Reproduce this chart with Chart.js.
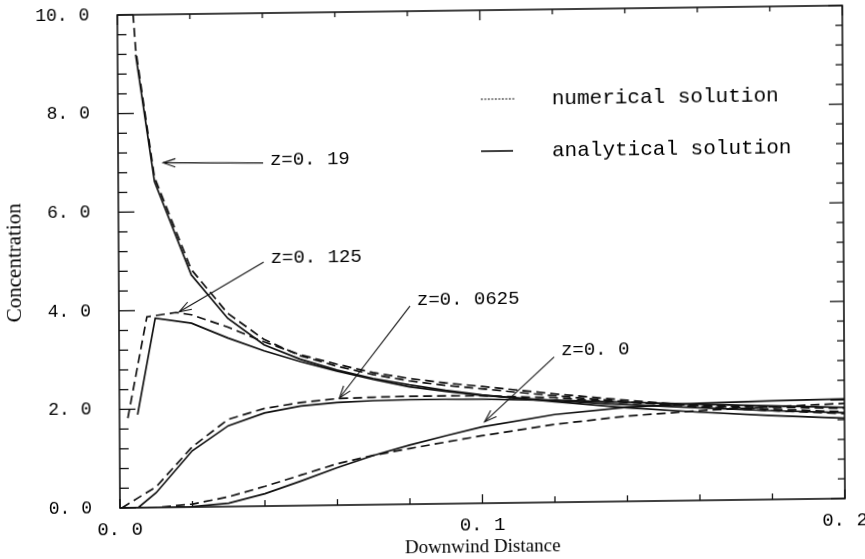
<!DOCTYPE html>
<html><head><meta charset="utf-8">
<script src="https://cdn.jsdelivr.net/npm/chart.js@4/dist/chart.umd.min.js"></script>
<style>
html,body{margin:0;padding:0;background:#fff;overflow:hidden}
#wrap{position:relative;width:865px;height:559px}
canvas{display:block;transform-origin:120px 508px;transform:rotate(-0.31deg) skewY(-0.44deg);}
</style></head>
<body><div id="wrap"><canvas id="c" width="865" height="559"></canvas></div>
<script>
// ---------- data ----------
// analytical solution (solid lines)
const xAnalytical   = [0.005, 0.01, 0.02, 0.03, 0.04, 0.05, 0.06, 0.07, 0.08, 0.09, 0.10, 0.12, 0.14, 0.16, 0.18, 0.20];
const anaZ019       = [9.19, 6.61, 4.71, 3.82, 3.27, 2.97, 2.74, 2.56, 2.42, 2.30, 2.20, 2.04, 1.90, 1.79, 1.70, 1.63];
const anaZ0125      = [1.89, 3.84, 3.73, 3.42, 3.15, 2.92, 2.72, 2.54, 2.38, 2.28, 2.19, 2.06, 1.96, 1.88, 1.80, 1.74];
const anaZ00625     = [0.00, 0.30, 1.14, 1.64, 1.89, 2.02, 2.08, 2.11, 2.12, 2.12, 2.11, 2.07, 2.01, 1.95, 1.90, 1.85];
const xAnaZ0        = [0.0, 0.01, 0.02, 0.03, 0.04, 0.05, 0.06, 0.07, 0.08, 0.09, 0.10, 0.12, 0.14, 0.16, 0.18, 0.20];
const anaZ0         = [0.00, 0.00, 0.01, 0.07, 0.25, 0.50, 0.76, 1.00, 1.20, 1.38, 1.55, 1.78, 1.91, 1.97, 2.00, 2.02];

// numerical solution (dashed lines)
const xNumZ019      = [0.0025, 0.005, 0.01, 0.02, 0.03, 0.04, 0.05, 0.06, 0.07, 0.08, 0.09, 0.10, 0.12, 0.14, 0.16, 0.18, 0.20];
const numZ019       = [12.0, 9.30, 6.70, 4.82, 3.92, 3.38, 3.04, 2.82, 2.64, 2.50, 2.40, 2.32, 2.16, 2.02, 1.90, 1.80, 1.72];
const xNumZ0125     = [0.0023, 0.0077, 0.0157, 0.02, 0.03, 0.04, 0.05, 0.06, 0.07, 0.08, 0.09, 0.10, 0.12, 0.14, 0.16, 0.18, 0.20];
const numZ0125      = [1.82, 3.87, 3.95, 3.90, 3.64, 3.33, 3.06, 2.86, 2.68, 2.55, 2.45, 2.37, 2.20, 2.05, 1.92, 1.83, 1.76];
const xNumZ00625    = [0.0005, 0.005, 0.01, 0.02, 0.03, 0.04, 0.05, 0.06, 0.07, 0.08, 0.09, 0.10, 0.12, 0.14, 0.16, 0.18, 0.20];
const numZ00625     = [0.00, 0.20, 0.42, 1.22, 1.77, 1.98, 2.09, 2.16, 2.18, 2.19, 2.19, 2.18, 2.12, 2.00, 1.93, 1.87, 1.83];
const xNumZ0        = [0.0, 0.01, 0.02, 0.03, 0.04, 0.05, 0.06, 0.07, 0.08, 0.09, 0.10, 0.12, 0.14, 0.16, 0.18, 0.20];
const numZ0         = [0.00, 0.00, 0.06, 0.20, 0.40, 0.62, 0.84, 1.00, 1.13, 1.25, 1.37, 1.58, 1.73, 1.82, 1.88, 1.93];

// annotations (label text and anchor points in data units)
const annotText     = ['z=0. 19', 'z=0. 125', 'z=0. 0625', 'z=0. 0'];
const annotTipX     = [0.0124, 0.0166, 0.0607, 0.1007];
const annotTipY     = [6.99, 3.96, 2.17, 1.65];
const annotTailX    = [0.040, 0.040, 0.0803, 0.120];
const annotTailY    = [6.96, 4.95, 4.02, 2.95];
const annotLabelX   = [0.0419, 0.0419, 0.0822, 0.1219];
const annotLabelY   = [7.02, 5.03, 4.14, 3.09];

const legendLabels  = ['numerical solution', 'analytical solution'];
const xTitle = 'Downwind Distance';
const yTitle = 'Concentration';

// ---------- chart ----------
const INK = '#111';
const pts = (xs, ys) => xs.map((x, i) => ({x: x, y: ys[i]}));
const isMult = (v, m) => Math.abs(v / m - Math.round(v / m)) < 1e-6;
const fmt = v => v.toFixed(1).replace('.', '. ');
const DASH = [9, 5];

function ds(xs, ys, dashed) {
  return {data: pts(xs, ys), borderColor: INK, borderWidth: 1.7, borderDash: dashed ? DASH : [],
          pointRadius: 0, tension: 0, fill: false};
}

function seg(ctx, x1, y1, x2, y2) { ctx.beginPath(); ctx.moveTo(x1, y1); ctx.lineTo(x2, y2); ctx.stroke(); }

const framePlugin = {
  id: 'frame',
  afterDraw(chart) {
    const {ctx, chartArea: a, scales: {x, y}} = chart;
    ctx.save();
    ctx.strokeStyle = INK;
    ctx.lineWidth = 1.6;
    ctx.setLineDash([]);
    ctx.strokeRect(a.left, a.top, a.right - a.left, a.bottom - a.top);
    ctx.lineWidth = 1.3;
    y.ticks.forEach(t => {
      const py = y.getPixelForValue(t.value);
      const major = isMult(t.value, 2);
      seg(ctx, a.left, py, a.left + (major ? 16 : 9), py);
      seg(ctx, a.right, py, a.right - (major ? 14 : 7), py);
    });
    x.ticks.forEach(t => {
      const px = x.getPixelForValue(t.value);
      const major = isMult(t.value, 0.1);
      seg(ctx, px, a.bottom, px, a.bottom - (major ? 9 : 6));
      seg(ctx, px, a.top, px, a.top + (major ? 10 : 5));
    });

    // annotations
    ctx.lineWidth = 1.1;
    ctx.fillStyle = '#000';
    ctx.font = '19px "Liberation Mono"';
    ctx.textAlign = 'left';
    ctx.textBaseline = 'middle';
    annotText.forEach((txt, i) => {
      const tx = x.getPixelForValue(annotTipX[i]), ty = y.getPixelForValue(annotTipY[i]);
      const sx = x.getPixelForValue(annotTailX[i]), sy = y.getPixelForValue(annotTailY[i]);
      seg(ctx, sx, sy, tx, ty);
      const ang = Math.atan2(ty - sy, tx - sx), L = 13, w = 0.33;
      ctx.beginPath();
      ctx.moveTo(tx - L * Math.cos(ang - w), ty - L * Math.sin(ang - w));
      ctx.lineTo(tx, ty);
      ctx.lineTo(tx - L * Math.cos(ang + w), ty - L * Math.sin(ang + w));
      ctx.stroke();
      ctx.fillText(txt, x.getPixelForValue(annotLabelX[i]), y.getPixelForValue(annotLabelY[i]));
    });

    // legend
    const lx0 = a.left + 363, lx1 = a.left + 398, tx = a.left + 434;
    const rows = [a.top + 89, a.top + 141];
    ctx.font = '21px "Liberation Mono"';
    ctx.lineWidth = 1.2;
    ctx.setLineDash([2, 1.5]);
    seg(ctx, lx0, rows[0], lx1, rows[0]);
    ctx.setLineDash([]);
    ctx.lineWidth = 1.6;
    seg(ctx, lx0, rows[1], lx1 - 3, rows[1]);
    ctx.fillText(legendLabels[0], tx, rows[0]);
    ctx.fillText(legendLabels[1], tx, rows[1]);
    ctx.restore();
  }
};

new Chart(document.getElementById('c'), {
  type: 'line',
  data: {
    datasets: [
      ds(xNumZ019, numZ019, true),
      ds(xNumZ0125, numZ0125, true),
      ds(xNumZ00625, numZ00625, true),
      ds(xNumZ0, numZ0, true),
      ds(xAnalytical, anaZ019, false),
      ds(xAnalytical, anaZ0125, false),
      ds(xAnalytical, anaZ00625, false),
      ds(xAnaZ0, anaZ0, false)
    ]
  },
  options: {
    responsive: false,
    animation: false,
    devicePixelRatio: 1,
    layout: {padding: {left: 0, right: 20, top: 15, bottom: 0}},
    plugins: {legend: {display: false}, tooltip: {enabled: false}},
    scales: {
      x: {
        type: 'linear', min: 0, max: 0.2,
        grid: {display: false, drawTicks: false}, border: {display: false},
        ticks: {stepSize: 0.02, autoSkip: false, maxRotation: 0, padding: 11, color: '#000',
                font: {family: 'Liberation Mono', size: 19},
                callback: v => isMult(v, 0.1) ? fmt(v) : ''},
        title: {display: true, text: xTitle, color: '#000',
                font: {family: 'Liberation Serif', size: 19}, padding: {top: 0, bottom: -4}},
        afterFit(s) { s.height = 51; s.paddingLeft = 0; s.paddingRight = 0; }
      },
      y: {
        type: 'linear', min: 0, max: 10,
        grid: {display: false, drawTicks: false}, border: {display: false},
        ticks: {stepSize: 0.4, autoSkip: false, maxTicksLimit: 100, padding: 28, color: '#000',
                font: {family: 'Liberation Mono', size: 18},
                callback: v => isMult(v, 2) ? fmt(v) : ''},
        title: {display: true, text: yTitle, color: '#000',
                font: {family: 'Liberation Serif', size: 21}, padding: {top: 4, bottom: 0}},
        afterFit(s) { s.width = 120; s.paddingTop = 0; s.paddingBottom = 0; }
      }
    }
  },
  plugins: [framePlugin]
});
</script>
</body></html>
